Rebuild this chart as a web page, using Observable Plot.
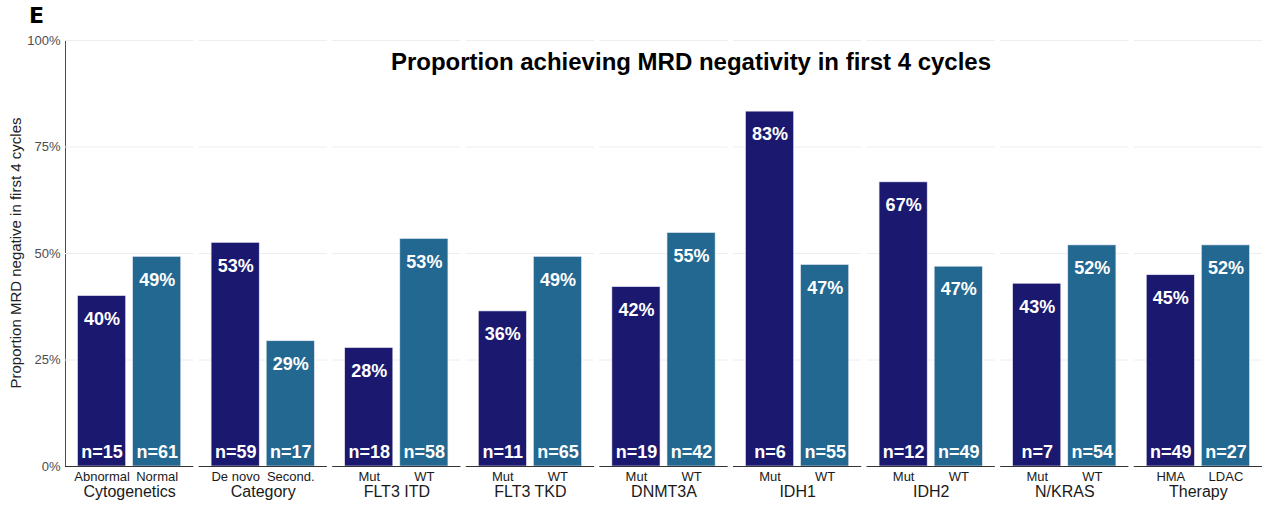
<!DOCTYPE html>
<html>
<head>
<meta charset="utf-8">
<script src="https://cdn.jsdelivr.net/npm/d3@7"></script>
<script src="https://cdn.jsdelivr.net/npm/@observablehq/plot@0.6"></script>
<style>
  body { margin: 0; background: #fff; }
  #wrap { position: relative; width: 1269px; height: 510px; font-family: "Liberation Sans", Arial, sans-serif; }
  #panel { position: absolute; left: 29px; top: 3px; font-family: "DejaVu Sans", sans-serif; font-weight: bold; font-size: 22px; color: #000; }
  #title { position: absolute; left: 65px; width: 1252px; top: 48px; text-align: center; font-weight: bold; font-size: 24px; color: #000; }
  #ylabel { position: absolute; left: 15px; top: 253px; transform: translate(-50%, -50%) rotate(-90deg); white-space: nowrap; font-size: 15px; color: #222; }
  #chart { position: absolute; left: 0; top: 0; }
</style>
</head>
<body>
<div id="wrap">
  <div id="chart"></div>
  <div id="panel">E</div>
  <div id="title">Proportion achieving MRD negativity in first 4 cycles</div>
  <div id="ylabel">Proportion MRD negative in first 4 cycles</div>
</div>
<script>
const groups = ["Cytogenetics", "Category", "FLT3 ITD", "FLT3 TKD", "DNMT3A", "IDH1", "IDH2", "N/KRAS", "Therapy"];
const labelsA = ["Abnormal", "De novo", "Mut", "Mut", "Mut", "Mut", "Mut", "Mut", "HMA"];
const labelsB = ["Normal", "Second.", "WT", "WT", "WT", "WT", "WT", "WT", "LDAC"];
const valuesA = [0.400, 0.525, 0.278, 0.364, 0.421, 0.833, 0.667, 0.429, 0.449];
const valuesB = [0.492, 0.294, 0.534, 0.492, 0.548, 0.473, 0.469, 0.519, 0.519];
const nA = [15, 59, 18, 11, 19, 6, 12, 7, 49];
const nB = [61, 17, 58, 65, 42, 55, 49, 54, 27];
const yTicks = [0, 0.25, 0.5, 0.75, 1];
const colorA = "#1b1870";
const colorB = "#236891";

const rows = [];
groups.forEach((g, i) => {
  rows.push({group: g, slot: "A", label: labelsA[i], value: valuesA[i], n: nA[i]});
  rows.push({group: g, slot: "B", label: labelsB[i], value: valuesB[i], n: nB[i]});
});

const pct = d3.format(".0%");

const chart = Plot.plot({
  width: 1269,
  height: 510,
  marginLeft: 65,
  marginRight: 7,
  marginTop: 40,
  marginBottom: 44,
  style: {fontFamily: "Liberation Sans, Arial, sans-serif", fontSize: "13px", color: "#4d4d4d", background: "transparent"},
  fx: {domain: groups, paddingInner: 0.04, paddingOuter: 0, round: false, axis: null},
  x: {domain: ["A", "B"], paddingInner: 0.127, paddingOuter: 0.227, round: false, axis: null},
  y: {
    domain: [0, 1],
    ticks: yTicks,
    tickFormat: pct,
    tickSize: 0,
    tickPadding: 5,
    line: true,
    label: null
  },
  color: {domain: ["A", "B"], range: [colorA, colorB]},
  marks: [
    Plot.ruleY(yTicks.slice(1), {stroke: "#eeeeee", strokeWidth: 1}),
    Plot.barY(rows, {fx: "group", x: "slot", y: "value", fill: "slot", stroke: "#e6e6f0", strokeWidth: 0.6}),
    Plot.ruleY([0], {stroke: "#333333", strokeWidth: 1}),
    Plot.text(rows, {fx: "group", x: "slot", y: "value", text: d => pct(d.value), dy: 23, fill: "white", fontSize: 18, fontWeight: "bold"}),
    Plot.text(rows, {fx: "group", x: "slot", frameAnchor: "bottom", text: d => "n=" + d.n, dy: -9, fill: "white", fontSize: 18, fontWeight: "bold"}),
    Plot.text(rows, {fx: "group", x: "slot", frameAnchor: "bottom", text: "label", dy: 14, fill: "#1a1a1a", fontSize: 13}),
    Plot.text(groups, {fx: d => d, frameAnchor: "bottom", text: d => d, dy: 30, fill: "#1a1a1a", fontSize: 16})
  ]
});
document.getElementById("chart").appendChild(chart);
</script>
</body>
</html>
